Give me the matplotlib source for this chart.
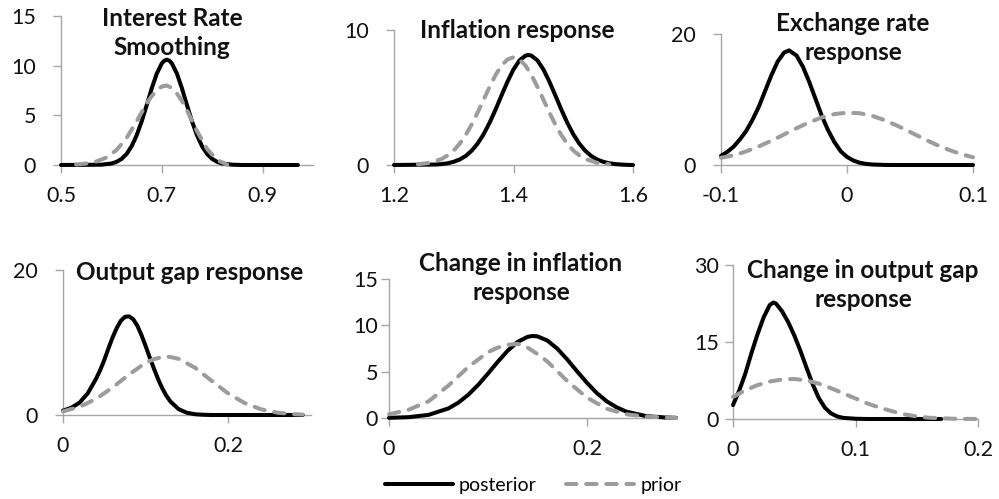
import matplotlib
matplotlib.use("Agg")
import matplotlib.pyplot as plt
from matplotlib.lines import Line2D

plt.rcParams['font.family'] = ['Lato', 'DejaVu Sans']

# ---------------- data ----------------
titles = ["Interest Rate\nSmoothing", "Inflation response", "Exchange rate\nresponse",
          "Output gap response", "Change in inflation\nresponse", "Change in output gap\nresponse"]

post1_x = [0.50, 0.58, 0.60, 0.61, 0.62, 0.63, 0.64, 0.65, 0.66, 0.67, 0.68, 0.69, 0.70, 0.705, 0.71,
           0.715, 0.72, 0.73, 0.74, 0.75, 0.76, 0.77, 0.78, 0.79, 0.80, 0.81, 0.82, 0.84, 0.86, 0.97]
post1_y = [0.0, 0.03, 0.15, 0.31, 0.61, 1.1, 1.88, 2.97, 4.38, 6.02, 7.71, 9.20, 10.23, 10.5, 10.6,
           10.5, 10.23, 9.20, 7.71, 6.02, 4.38, 2.97, 1.88, 1.1, 0.61, 0.31, 0.15, 0.03, 0.0, 0.0]
prior1_x = [0.53, 0.55, 0.57, 0.59, 0.61, 0.63, 0.65, 0.66, 0.67, 0.68, 0.69, 0.70, 0.71, 0.72, 0.73,
            0.74, 0.75, 0.77, 0.79, 0.81, 0.83]
prior1_y = [0.05, 0.15, 0.35, 0.75, 1.5, 2.7, 4.4, 5.3, 6.2, 6.95, 7.5, 7.9, 8.0, 7.75, 7.2,
            6.45, 5.5, 3.4, 1.6, 0.5, 0.02]

post2_x = [1.20, 1.27, 1.28, 1.29, 1.30, 1.31, 1.32, 1.33, 1.34, 1.35, 1.36, 1.37, 1.38, 1.39, 1.40,
           1.41, 1.42, 1.425, 1.43, 1.44, 1.45, 1.46, 1.47, 1.48, 1.49, 1.50, 1.51, 1.52, 1.53, 1.54,
           1.55, 1.56, 1.57, 1.58, 1.59, 1.60]
post2_y = [0.0, 0.035, 0.07, 0.13, 0.24, 0.41, 0.67, 1.06, 1.59, 2.28, 3.13, 4.11, 5.16, 6.18, 7.08,
           7.75, 8.10, 8.15, 8.10, 7.75, 7.08, 6.18, 5.16, 4.11, 3.13, 2.28, 1.59, 1.06, 0.67, 0.41,
           0.24, 0.13, 0.07, 0.035, 0.01, 0.0]
prior2_x = [1.24, 1.26, 1.28, 1.29, 1.30, 1.31, 1.32, 1.33, 1.34, 1.35, 1.36, 1.37, 1.38, 1.39, 1.40,
            1.41, 1.42, 1.43, 1.44, 1.45, 1.46, 1.47, 1.48, 1.49, 1.50, 1.51, 1.52, 1.54, 1.56]
prior2_y = [0.05, 0.16, 0.45, 0.72, 1.08, 1.58, 2.22, 3.0, 3.89, 4.84, 5.79, 6.67, 7.37, 7.82, 7.98,
            7.82, 7.37, 6.67, 5.79, 4.84, 3.89, 3.0, 2.22, 1.58, 1.08, 0.72, 0.45, 0.16, 0.05]

post3_x = [-0.100, -0.095, -0.090, -0.085, -0.080, -0.075, -0.070, -0.065, -0.060, -0.055, -0.050,
           -0.046, -0.040, -0.035, -0.030, -0.025, -0.020, -0.015, -0.010, -0.005, 0.000, 0.005,
           0.010, 0.015, 0.020, 0.030, 0.040, 0.100]
post3_y = [1.4, 2.0, 2.8, 3.9, 5.2, 6.9, 8.9, 11.3, 13.7, 15.8, 17.15,
           17.5, 16.7, 15.0, 12.7, 10.1, 7.5, 5.3, 3.5, 2.1, 1.24, 0.68,
           0.35, 0.17, 0.08, 0.01, 0.0, 0.0]
prior3_x = [-0.10, -0.09, -0.08, -0.07, -0.06, -0.05, -0.04, -0.03, -0.02, -0.01, 0.00,
            0.01, 0.02, 0.03, 0.04, 0.05, 0.06, 0.07, 0.08, 0.09, 0.10]
prior3_y = [1.1, 1.47, 2.08, 2.84, 3.7, 4.66, 5.62, 6.52, 7.26, 7.77, 7.99,
            7.9, 7.5, 6.84, 5.99, 5.05, 4.08, 3.17, 2.37, 1.7, 1.17]

post4_x = [0.00, 0.01, 0.02, 0.03, 0.04, 0.045, 0.05, 0.055, 0.06, 0.065, 0.07, 0.075, 0.08, 0.085,
           0.09, 0.095, 0.10, 0.105, 0.11, 0.115, 0.12, 0.125, 0.13, 0.14, 0.15, 0.16, 0.17, 0.18, 0.29]
post4_y = [0.6, 1.0, 1.7, 3.0, 5.0, 6.2, 7.6, 9.2, 10.7, 12.0, 13.0, 13.55, 13.6, 13.2,
           12.3, 11.0, 9.5, 7.9, 6.4, 4.96, 3.7, 2.66, 1.85, 0.8, 0.3, 0.1, 0.03, 0.0, 0.0]
prior4_x = [0.00, 0.02, 0.04, 0.06, 0.08, 0.10, 0.11, 0.12, 0.125, 0.13, 0.14, 0.16, 0.18, 0.20,
            0.22, 0.24, 0.26, 0.28, 0.29]
prior4_y = [0.5, 1.13, 2.22, 3.8, 5.6, 7.2, 7.7, 8.0, 8.05, 8.0, 7.74, 6.5, 4.7, 2.96,
            1.63, 0.77, 0.31, 0.11, 0.06]

post5_x = [0.00, 0.02, 0.04, 0.06, 0.07, 0.08, 0.09, 0.10, 0.11, 0.12, 0.13, 0.14, 0.145, 0.15,
           0.16, 0.17, 0.18, 0.19, 0.20, 0.21, 0.22, 0.23, 0.24, 0.26, 0.28, 0.29]
post5_y = [0.02, 0.09, 0.34, 1.03, 1.65, 2.5, 3.56, 4.79, 6.08, 7.27, 8.21, 8.76, 8.85, 8.81,
           8.36, 7.49, 6.33, 5.04, 3.8, 2.69, 1.8, 1.15, 0.68, 0.2, 0.05, 0.02]
prior5_x = [0.00, 0.02, 0.04, 0.06, 0.08, 0.10, 0.11, 0.12, 0.13, 0.14, 0.15, 0.16, 0.18, 0.20,
            0.22, 0.24, 0.26, 0.28, 0.29]
prior5_y = [0.4, 0.9, 1.8, 3.5, 5.5, 7.1, 7.6, 7.9, 8.0, 7.6, 6.9, 6.1, 4.0, 2.2,
            1.0, 0.4, 0.15, 0.05, 0.0]

post6_x = [0.000, 0.005, 0.010, 0.015, 0.020, 0.025, 0.030, 0.033, 0.035, 0.040, 0.045, 0.050,
           0.055, 0.060, 0.065, 0.070, 0.075, 0.080, 0.085, 0.090, 0.100, 0.110, 0.170]
post6_y = [2.7, 5.5, 8.8, 12.8, 16.5, 19.8, 22.2, 22.7, 22.5, 21.0, 18.9, 16.3,
           13.3, 10.0, 6.8, 4.1, 2.2, 1.1, 0.5, 0.22, 0.05, 0.0, 0.0]
prior6_x = [0.00, 0.01, 0.02, 0.03, 0.04, 0.05, 0.06, 0.07, 0.08, 0.09, 0.10, 0.11, 0.12, 0.13,
            0.14, 0.15, 0.16, 0.18, 0.20]
prior6_y = [4.3, 5.6, 6.6, 7.3, 7.7, 7.8, 7.5, 6.9, 6.0, 5.0, 4.0, 3.0, 2.2, 1.5,
            0.9, 0.5, 0.25, 0.05, 0.0]

x_limits = [(0.5, 1.0), (1.2, 1.6), (-0.1, 0.1), (0.0, 0.3), (0.0, 0.29), (0.0, 0.2)]
x_ticks = [[0.5, 0.7, 0.9], [1.2, 1.4, 1.6], [-0.1, 0.0, 0.1], [0.0, 0.2], [0.0, 0.2], [0.0, 0.1, 0.2]]
x_tick_labels = [["0.5", "0.7", "0.9"], ["1.2", "1.4", "1.6"], ["-0.1", "0", "0.1"],
                 ["0", "0.2"], ["0", "0.2"], ["0", "0.1", "0.2"]]
y_ticks = [[0, 5, 10, 15], [0, 10], [0, 20], [0, 20], [0, 5, 10, 15], [0, 15, 30]]

posteriors = [(post1_x, post1_y), (post2_x, post2_y), (post3_x, post3_y),
              (post4_x, post4_y), (post5_x, post5_y), (post6_x, post6_y)]
priors = [(prior1_x, prior1_y), (prior2_x, prior2_y), (prior3_x, prior3_y),
          (prior4_x, prior4_y), (prior5_x, prior5_y), (prior6_x, prior6_y)]

# ---------------- layout (pixel boxes: left, right, top, bottom) ----------------
W, H = 999, 499
boxes = [(61, 313, 16, 165), (394, 633, 30, 165), (721, 973, 34, 165),
         (63, 311, 270, 415), (389, 676, 279, 418), (733, 978, 265, 419)]
ylab_pad = [12, 12, 12, 12, 2, 4]
title_pos = [(172, 33), (517, 30), (853, 38), (190, 273), (521, 278), (863, 285)]

fig = plt.figure(figsize=(W / 100, H / 100), dpi=100)
fig.patch.set_facecolor("white")

spine_col = "#a6a6a6"
prior_col = "#9c9c9c"
LW = 2.9
DASH = (2.6, 2.4)

for i in range(6):
    l, r, t, b = boxes[i]
    ax = fig.add_axes([l / W, 1 - b / H, (r - l) / W, (b - t) / H])
    px, py = posteriors[i]
    qx, qy = priors[i]
    ax.plot(px, py, color="black", lw=LW, solid_capstyle="round", solid_joinstyle="round",
            clip_on=False, zorder=3)
    ax.plot(qx, qy, color=prior_col, lw=LW, dashes=DASH, dash_capstyle="round",
            clip_on=False, zorder=4)
    ax.set_xlim(*x_limits[i])
    ax.set_ylim(0, y_ticks[i][-1])
    ax.set_xticks(x_ticks[i])
    ax.set_xticklabels(x_tick_labels[i])
    ax.set_yticks(y_ticks[i])
    ax.set_yticklabels([str(v) for v in y_ticks[i]])
    for s in ["top", "right"]:
        ax.spines[s].set_visible(False)
    for s in ["left", "bottom"]:
        ax.spines[s].set_color(spine_col)
        ax.spines[s].set_linewidth(1.0)
    ax.tick_params(axis="both", direction="out", length=6, width=1.0, color=spine_col,
                   labelsize=15.5, labelcolor="#111111")
    ax.tick_params(axis="y", pad=ylab_pad[i])
    ax.tick_params(axis="x", pad=9)
    ax.set_facecolor("none")
    tx, ty = title_pos[i]
    fig.text(tx / W, 1 - ty / H, titles[i], ha="center", va="center", fontsize=17.5,
             fontweight="bold", linespacing=1.32, color="#111111")

handles = [Line2D([], [], color="black", lw=LW, solid_capstyle="round"),
           Line2D([], [], color=prior_col, lw=LW, dashes=DASH, dash_capstyle="round")]
fig.legend(handles, ["posterior", "prior"], loc="center", bbox_to_anchor=(533 / W, 1 - 485 / H),
           ncol=2, frameon=False, fontsize=14, handlelength=3.5, handletextpad=0.3,
           columnspacing=1.55)

fig.savefig("out.png", dpi=100, facecolor="white")
